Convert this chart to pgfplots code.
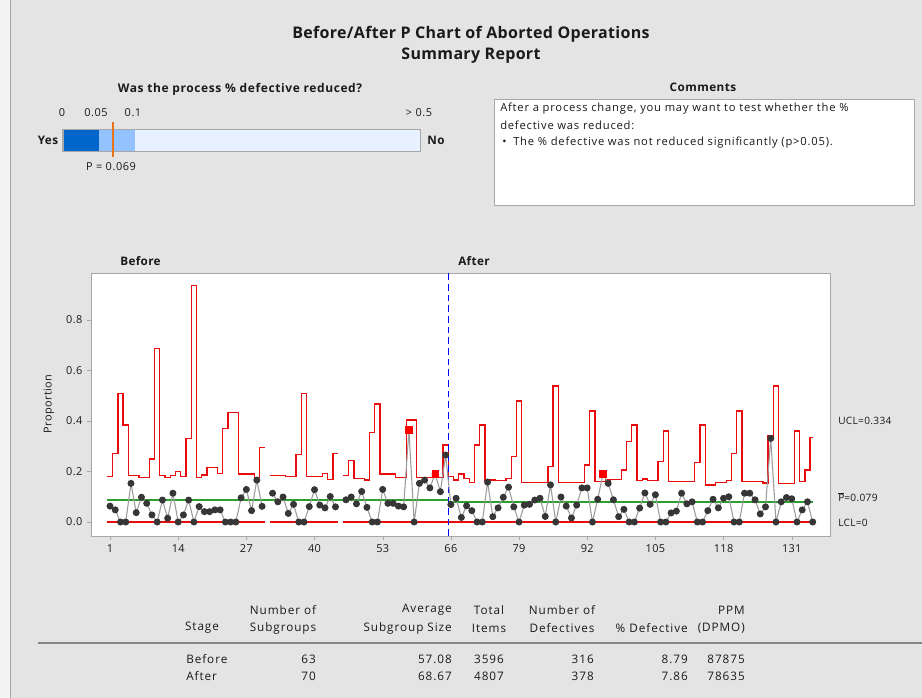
\documentclass[border=0pt]{standalone}
\usepackage{pgfplots}
\pgfplotsset{compat=1.18}
\usepackage{pgfplotstable}
\usepackage{fontspec}
\setmainfont{Open Sans}
\definecolor{bg}{HTML}{E4E4E4}
\definecolor{ptc}{HTML}{363636}
\definecolor{linec}{HTML}{9C9C9C}
\definecolor{uclred}{HTML}{E80C0C}
\definecolor{cl}{HTML}{2E9E2E}
\definecolor{frm}{HTML}{A8A8A8}
\definecolor{bA}{HTML}{0066CC}
\definecolor{bB}{HTML}{94C2FF}
\definecolor{bC}{HTML}{E8F1FF}
\definecolor{orng}{HTML}{E8731A}
\definecolor{txt}{HTML}{1A1A1A}

\pgfplotstableread{
x y
1 0.063
2 0.048
3 0
4 0
5 0.153
6 0.037
7 0.098
8 0.074
9 0.028
10 0
11 0.087
12 0.015
13 0.114
14 0
15 0.028
16 0.087
17 0
18 0.061
19 0.041
20 0.041
21 0.048
22 0.048
23 0
24 0
25 0
26 0.096
27 0.129
28 0.045
29 0.166
30 0.062
31 nan
32 0.114
33 0.080
34 0.099
35 0.034
36 0.070
37 0
38 0
39 0.061
40 0.128
41 0.067
42 0.056
43 0.101
44 0.060
45 nan
46 0.088
47 0.099
48 0.072
49 0.121
50 0.058
51 0
52 0
53 0.129
54 0.074
55 0.074
56 0.063
57 0.060
58 0.364
59 0
60 0.153
61 0.166
62 0.135
63 0.190
64 0.120
65 0.265
66 0.069
67 0.094
68 0.018
69 0.064
70 0.045
71 0
72 0
73 0.158
74 0.021
75 0.056
76 0.098
77 0.138
78 0.060
79 0
80 0.067
81 0.070
82 0.087
83 0.094
84 0.022
85 0.147
86 0
87 0.099
88 0.063
89 0.016
90 0.067
91 0.135
92 0.135
93 0
94 0.090
95 0.190
96 0.153
97 0.088
98 0.021
99 0.050
100 0
101 0
102 0.055
103 0.115
104 0.070
105 0.108
106 0
107 0
108 0.036
109 0.043
110 0.114
111 0.072
112 0.080
113 0
114 0
115 0.045
116 0.090
117 0.056
118 0.094
119 0.100
120 0
121 0
122 0.114
123 0.114
124 0.088
125 0.032
126 0.060
127 0.331
128 0
129 0.080
130 0.097
131 0.092
132 0
133 0.048
134 0.080
135 0
}\pts

\pgfplotstableread{
x u
0.5 0.180
1 0.180
2 0.272
3 0.510
4 0.384
5 0.183
6 0.183
7 0.177
8 0.177
9 0.250
10 0.688
11 0.183
12 0.177
13 0.183
14 0.200
15 0.180
16 0.331
17 0.936
18 0.177
19 0.186
20 0.215
21 0.215
22 0.193
23 0.371
24 0.433
25 0.433
26 0.190
27 0.190
28 0.190
29 0.177
30 0.296
30.5 0.296
}\uclA

\pgfplotstableread{
x u
31.5 0.183
32 0.183
33 0.183
34 0.183
35 0.180
36 0.180
37 0.268
38 0.510
39 0.180
40 0.180
41 0.180
42 0.193
43 0.169
44 0.272
44.5 0.272
}\uclB

\pgfplotstableread{
x u
45.5 0.183
46 0.183
47 0.243
48 0.172
49 0.172
50 0.166
51 0.355
52 0.467
53 0.190
54 0.190
55 0.190
56 0.177
57 0.177
58 0.404
59 0.404
60 0.177
61 0.177
62 0.177
63 0.177
64 0.177
65 0.305
66 0.180
67 0.166
68 0.190
69 0.173
70 0.157
71 0.305
72 0.384
73 0.166
74 0.166
75 0.164
76 0.164
77 0.173
78 0.259
79 0.479
80 0.156
81 0.156
82 0.156
83 0.156
84 0.156
85 0.219
86 0.539
87 0.156
88 0.156
89 0.156
90 0.156
91 0.156
92 0.226
93 0.440
94 0.160
95 0.160
96 0.166
97 0.168
98 0.168
99 0.206
100 0.320
101 0.384
102 0.164
103 0.170
104 0.164
105 0.164
106 0.239
107 0.360
108 0.160
109 0.160
110 0.160
111 0.160
112 0.160
113 0.235
114 0.384
115 0.147
116 0.147
117 0.156
118 0.156
119 0.164
120 0.272
121 0.440
122 0.160
123 0.160
124 0.160
125 0.160
126 0.154
127 0.340
128 0.539
129 0.152
130 0.152
131 0.152
132 0.360
133 0.160
134 0.206
135 0.334
}\uclC

\newcommand\fnt[2]{\fontsize{#1}{#1}\selectfont\addfontfeature{LetterSpace=#2}}

\begin{document}
\begin{tikzpicture}
\begin{scope}[x=0.75pt,y=-0.75pt]
\useasboundingbox (0,0) rectangle (922,698);
\fill[bg] (0,0) rectangle (922,698);
\fill[white!60!bg] (0,0) rectangle (10,698);
\draw[frm] (10.5,0) -- (10.5,698);
\coordinate (axsw) at (91,536);
% titles
\node[txt,font=\bfseries\fnt{12}{2}] at (471,34) {Before/After P Chart of Aborted Operations};
\node[txt,font=\bfseries\fnt{12}{2}] at (471,56) {Summary Report};
% question
\node[txt,font=\bfseries\fnt{9}{5}] at (240,89) {Was the process \% defective reduced?};
\begin{scope}[font=\fnt{8.2}{5}, text=txt]
\node at (62,113) {0};
\node at (96,113) {0.05};
\node at (133,113) {0.1};
\node at (419,113) {> 0.5};
\node at (111,167) {P = 0.069};
\end{scope}
\fill[bC] (63,129.5) rectangle (420.5,151.5);
\fill[bB] (99.3,129.5) rectangle (135,151.5);
\fill[bA] (63,129.5) rectangle (99.3,151.5);
\draw[frm,line width=0.9pt] (63,129.5) rectangle (420.5,151.5);
\draw[orng,line width=1.6pt] (113.3,122.5) -- (113.3,157.5);
\node[txt,font=\bfseries\fnt{8.8}{3}] at (48,140) {Yes};
\node[txt,font=\bfseries\fnt{8.8}{3}] at (436,140) {No};
% comments
\node[txt,font=\bfseries\fnt{8.8}{4}] at (703,87) {Comments};
\fill[white] (494,99) rectangle (914,205);
\draw[frm] (494,99) rectangle (914,205);
\begin{scope}[font=\fnt{8.4}{7}, text=txt]
\node[anchor=west,inner sep=0] at (500,109) {After a process change, you may want to test whether the \%};
\node[anchor=west,inner sep=0] at (500,125) {defective was reduced:};
\node[anchor=west,inner sep=0] at (502,143) {\textbullet};
\node[anchor=west,inner sep=0] at (513,143) {The \% defective was not reduced significantly (p>0.05).};
\end{scope}
% stage labels
\node[txt,anchor=west,inner sep=0,font=\bfseries\fnt{8.8}{3}] at (120,261) {Before};
\node[txt,anchor=west,inner sep=0,font=\bfseries\fnt{8.8}{3}] at (458,261) {After};
\node[txt,rotate=90,font=\fnt{8.2}{4}] at (49,404) {Proportion};
% limit labels
\begin{scope}[font=\fnt{7.6}{3}, text=txt]
\node[anchor=west,inner sep=0] at (838,421) {UCL=0.334};
\node[anchor=west,inner sep=0] at (838,497) {\ensuremath{\overline{\mbox{P}}}=0.079};
\node[anchor=west,inner sep=0] at (838,523) {LCL=0};
\end{scope}
% table
\begin{scope}[font=\fnt{8.8}{8}, text=txt, inner sep=0]
\node at (202,628) {Stage};
\node at (283,610) {Number of};
\node at (283,628) {Subgroups};
\node[anchor=east] at (452,610) {Average};
\node[anchor=east] at (452,628) {Subgroup Size};
\node at (489,610) {Total};
\node at (489,628) {Items};
\node at (562,610) {Number of};
\node at (562,628) {Defectives};
\node[anchor=east] at (688,628) {\% Defective};
\node[anchor=east] at (745,610) {PPM};
\node[anchor=east] at (745,628) {(DPMO)};
\node[anchor=west] at (186,659) {Before};
\node[anchor=west] at (186,676) {After};
\node[anchor=east] at (316,659) {63};
\node[anchor=east] at (316,676) {70};
\node[anchor=east] at (452,659) {57.08};
\node[anchor=east] at (452,676) {68.67};
\node at (489,659) {3596};
\node at (489,676) {4807};
\node[anchor=east] at (594,659) {316};
\node[anchor=east] at (594,676) {378};
\node[anchor=east] at (688,659) {8.79};
\node[anchor=east] at (688,676) {7.86};
\node[anchor=east] at (745,659) {87875};
\node[anchor=east] at (745,676) {78635};
\end{scope}
\draw[frm!80!black,line width=0.9pt] (38,643) -- (922,643);
\draw[white!70!frm,line width=0.8pt] (38,645.5) -- (922,645.5);
\end{scope}

\begin{axis}[
  at={(axsw)}, anchor=south west,
  scale only axis, width=554.25pt, height=197.25pt,
  xmin=-2.623, xmax=138.3, ymin=-0.0554, ymax=0.986,
  axis line style={draw=frm},
  axis background/.style={fill=white},
  xtick={1,14,...,131},
  ytick={0,0.2,0.4,0.6,0.8},
  tick align=outside, tick pos=left,
  major tick length=3pt,
  tick style={draw=frm},
  /pgf/number format/assume math mode=true,
  yticklabel style={/pgf/number format/fixed,/pgf/number format/precision=1,/pgf/number format/fixed zerofill},
  ticklabel style={font=\fnt{8.2}{3}, text=txt},
  unbounded coords=jump,
  clip=false,
]
\addplot[const plot mark mid, draw=uclred, line width=1pt] table[x=x,y=u] {\uclA};
\addplot[const plot mark mid, draw=uclred, line width=1pt] table[x=x,y=u] {\uclB};
\addplot[const plot mark mid, draw=uclred, line width=1pt] table[x=x,y=u] {\uclC};
\addplot[uclred, line width=1.4pt] coordinates {(0.5,0) (30.5,0)};
\addplot[uclred, line width=1.4pt] coordinates {(31.5,0) (44.5,0)};
\addplot[uclred, line width=1.4pt] coordinates {(45.5,0) (135,0)};
\addplot[cl, line width=1.4pt] coordinates {(0.5,0.0879) (65.5,0.0879)};
\addplot[cl, line width=1.4pt] coordinates {(65.5,0.0786) (135,0.0786)};
\addplot[blue, line width=1.1pt, dash pattern=on 5pt off 3pt] coordinates {(65.5,-0.0554) (65.5,0.986)};
\addplot[linec, line width=0.8pt, mark=*, mark size=2.2pt, mark options={fill=ptc, draw=ptc, solid}] table[x=x,y=y] {\pts};
\addplot[only marks, mark=square*, mark size=2.5pt, mark options={fill=red, draw=red}] coordinates {(58,0.364) (63,0.190) (95,0.190)};
\end{axis}
\end{tikzpicture}
\end{document}
